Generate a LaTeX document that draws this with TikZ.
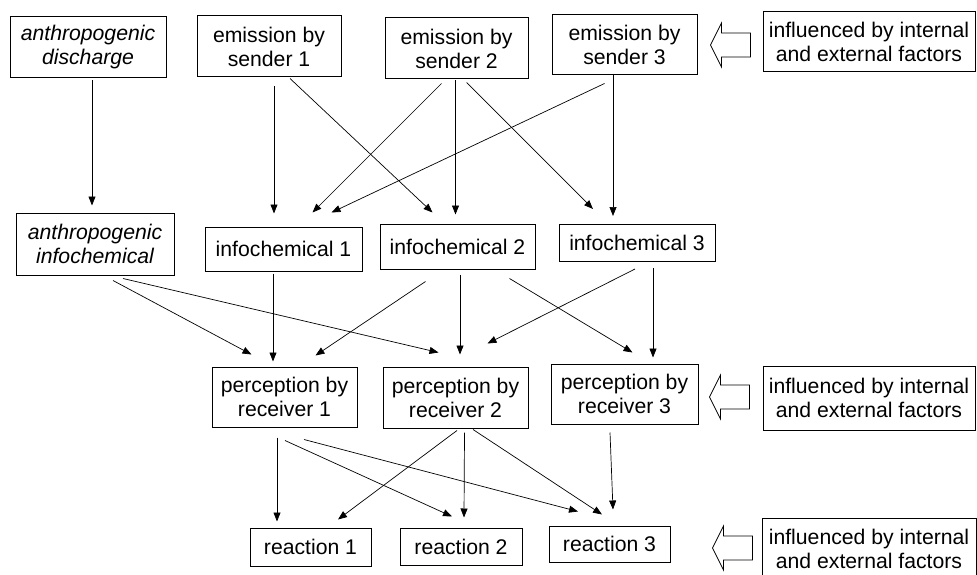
\documentclass[tikz,border=0pt]{standalone}
\usepackage{fontspec}
\setmainfont{Liberation Sans}
\usetikzlibrary{arrows.meta,calc}
\begin{document}
\begin{tikzpicture}[x=1pt,y=-1pt,
  box/.style={draw, line width=1pt, inner sep=0pt, align=center,
    font=\fontsize{21.2}{24}\selectfont},
  arr/.style={-{Triangle[length=9pt,width=7pt]}, line width=0.7pt},
  hollowarrow/.pic={\draw[line width=0.8pt] (0,0) -- (11,-22) -- (11,-12) -- (40,-12) -- (40,12) -- (11,12) -- (11,22) -- cycle;}
]
\useasboundingbox (0,0) rectangle (977,575);
% row 1
\node[box, minimum width=156pt, minimum height=61pt, font=\fontsize{21.2}{24}\selectfont\itshape] (AD) at (88,47.5) {anthropogenic\\discharge};
\node[box, minimum width=144pt, minimum height=61pt] (S1) at (269,46.5) {emission by\\sender 1};
\node[box, minimum width=143pt, minimum height=61pt] (S2) at (456.5,48.5) {emission by\\sender 2};
\node[box, minimum width=145pt, minimum height=60pt] (S3) at (624.5,45) {emission by\\sender 3};
\node[box, minimum width=212pt, minimum height=60pt] (I1) at (869,42) {influenced by internal\\and external factors};
% row 2
\node[box, minimum width=158pt, minimum height=62pt, font=\fontsize{21.2}{24}\selectfont\itshape] (AI) at (95,244) {anthropogenic\\infochemical};
\node[box, minimum width=157pt, minimum height=44pt] (C1) at (283.5,249) {infochemical 1};
\node[box, minimum width=155pt, minimum height=45pt] (C2) at (457.5,246.5) {infochemical 2};
\node[box, minimum width=156pt, minimum height=37pt] (C3) at (637,243) {infochemical 3};
% row 3
\node[box, minimum width=145pt, minimum height=60pt] (P1) at (284.5,397) {perception by\\receiver 1};
\node[box, minimum width=145pt, minimum height=61pt] (P2) at (455.5,397.5) {perception by\\receiver 2};
\node[box, minimum width=147pt, minimum height=60pt] (P3) at (624.5,394) {perception by\\receiver 3};
\node[box, minimum width=212pt, minimum height=64pt] (I2) at (869,398) {influenced by internal\\and external factors};
% row 4
\node[box, minimum width=121pt, minimum height=38pt] (R1) at (310.5,547) {reaction 1};
\node[box, minimum width=122pt, minimum height=37pt] (R2) at (461,546.5) {reaction 2};
\node[box, minimum width=121pt, minimum height=36pt] (R3) at (609.5,544) {reaction 3};
\node[box, minimum width=214pt, minimum height=62pt] (I3) at (869,549) {influenced by internal\\and external factors};
% hollow arrows
\pic at ($(I1.west)+(-52,3)$) {hollowarrow};
\pic at ($(I2.west)+(-53,-1)$) {hollowarrow};
\pic at ($(I3.west)+(-49,-1)$) {hollowarrow};
% row 1 -> row 2
\draw[arr] ($(AD.south)+(4,2)$) -- ($(AI.north)+(-3,-7)$);
\draw[arr] ($(S1.south)+(5,9)$) -- ($(C1.north)+(-9.5,-13)$);
\draw[arr] ($(S1.south)+(21,1)$) -- ($(C2.north)+(-25,-11)$);
\draw[arr] ($(S2.south)+(-15,4)$) -- ($(C1.north)+(29,-14)$);
\draw[arr] ($(S2.south)+(-1,1)$) -- ($(C2.north)+(-2,-9)$);
\draw[arr] ($(S2.south)+(10,3)$) -- ($(C3.north)+(-44,-15)$);
\draw[arr] ($(S3.south)+(-20,8)$) -- ($(C1.north)+(48,-14)$);
\draw[arr] ($(S3.south)+(-11.5,0)$) -- ($(C3.north)+(-24,-8)$);
% row 2 -> row 3
\draw[arr] ($(AI.south)+(18,5)$) -- ($(P1.north)+(-33,-12)$);
\draw[arr] ($(AI.south)+(28,3)$) -- ($(P2.north)+(-17,-14)$);
\draw[arr] ($(C1.south)+(-10.5,2)$) -- ($(P1.north)+(-11.5,-5)$);
\draw[arr] ($(C2.south)+(-32,12)$) -- ($(P1.north)+(31,-11)$);
\draw[arr] ($(C2.south)+(2.5,5)$) -- ($(P2.north)+(4.5,-12)$);
\draw[arr] ($(C2.south)+(52,9)$) -- ($(P3.north)+(8,-11)$);
\draw[arr] ($(C3.south)+(-2,7)$) -- ($(P2.north)+(32,-23)$);
\draw[arr] ($(C3.south)+(16,6)$) -- ($(P3.north)+(28.5,-6)$);
% row 3 -> row 4
\draw[arr] ($(P1.south)+(-7.5,10)$) -- ($(R1.north)+(-33.5,-6)$);
\draw[arr] ($(P1.south)+(0.5,13)$) -- ($(R2.north)+(-9,-11)$);
\draw[arr] ($(P1.south)+(19.5,12)$) -- ($(R3.north)+(-31.5,-14)$);
\draw[arr] ($(P2.south)+(1.5,2)$) -- ($(R1.north)+(27.5,-8)$);
\draw[arr] ($(P2.south)+(9,4)$) -- ($(R2.north)+(3,-10)$);
\draw[arr] ($(P2.south)+(17.5,1)$) -- ($(R3.north)+(-7.5,-11)$);
\draw[arr] ($(P3.south)+(-14.5,8)$) -- ($(R3.north)+(3.5,-16)$);
\end{tikzpicture}
\end{document}
